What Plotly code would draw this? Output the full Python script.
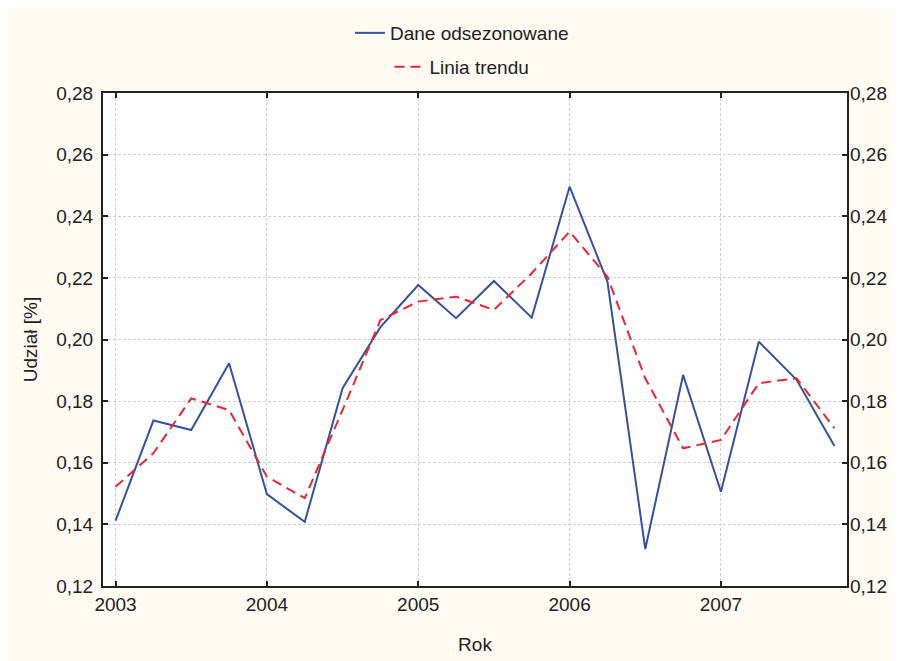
import plotly.graph_objects as go

# Data (quarterly, 2003 Q1 .. 2007 Q4)
x_years = [2003.0, 2003.25, 2003.5, 2003.75,
           2004.0, 2004.25, 2004.5, 2004.75,
           2005.0, 2005.25, 2005.5, 2005.75,
           2006.0, 2006.25, 2006.5, 2006.75,
           2007.0, 2007.25, 2007.5, 2007.75]
dane_odsezonowane = [0.1412, 0.1737, 0.1706, 0.1923,
                     0.1498, 0.1408, 0.1842, 0.2040,
                     0.2177, 0.2069, 0.2190, 0.2071,
                     0.2496, 0.2188, 0.1320, 0.1885,
                     0.1506, 0.1993, 0.1869, 0.1654]
linia_trendu = [0.1522, 0.1631, 0.1809, 0.1771,
                0.1555, 0.1485, 0.1771, 0.2063,
                0.2123, 0.2139, 0.2096, 0.2215,
                0.2350, 0.2204, 0.1874, 0.1647,
                0.1674, 0.1858, 0.1874, 0.1712]
year_ticks = [2003, 2004, 2005, 2006, 2007]
year_labels = ["2003", "2004", "2005", "2006", "2007"]
y_ticks = [0.12, 0.14, 0.16, 0.18, 0.20, 0.22, 0.24, 0.26, 0.28]

FONT = "Liberation Sans, Arial, sans-serif"
FS = 19
CREAM = "#FFFAF2"
AXIS = "#222222"
GRID = "#cfcfcf"

W, H = 899, 661
OFF = 8  # page body margin
L, R, T, B = 95, 60, 85, 83
PW, PH = W - L - R, H - T - B

def px_x(p):
    return (p - OFF - L) / PW

def px_y(p):
    return 1 + (T - (p - OFF)) / PH

fig = go.Figure()
fig.add_trace(go.Scatter(
    x=x_years, y=dane_odsezonowane, mode="lines", name="Dane odsezonowane",
    line=dict(color="#3352A3", width=2), legend="legend"))
fig.add_trace(go.Scatter(
    x=x_years, y=linia_trendu, mode="lines", name="Linia trendu",
    line=dict(color="#EE2430", width=2, dash="10px,6px"), legend="legend2"))
# invisible trace for right-hand axis
fig.add_trace(go.Scatter(
    x=x_years, y=linia_trendu, mode="lines", yaxis="y2", showlegend=False,
    line=dict(color="rgba(0,0,0,0)", width=0), hoverinfo="skip"))

fig.update_layout(
    width=W, height=H,
    margin=dict(l=L, r=R, t=T, b=B, autoexpand=False),
    paper_bgcolor=CREAM, plot_bgcolor="white",
    separators=", ",
    font=dict(family=FONT, size=FS, color="#222222"),
    xaxis=dict(
        range=[2002.917, 2007.833], tickvals=year_ticks, ticktext=year_labels,
        showgrid=True, gridcolor=GRID, griddash="3px,2px", gridwidth=1,
        showline=True, linecolor=AXIS, linewidth=2, mirror="ticks",
        ticks="inside", ticklen=5, tickwidth=2, tickcolor=AXIS,
        zeroline=False,
        title=dict(text="Rok", font=dict(size=FS), standoff=24),
        tickfont=dict(size=FS),
    ),
    yaxis=dict(
        range=[0.12, 0.28], tickvals=y_ticks, tickformat=".2f",
        showgrid=True, gridcolor=GRID, griddash="3px,2px", gridwidth=1,
        showline=True, linecolor=AXIS, linewidth=2, mirror="ticks",
        ticks="inside", ticklen=5, tickwidth=2, tickcolor=AXIS,
        zeroline=False, ticklabelstandoff=4,
        title=dict(text="Udział [%]", font=dict(size=FS), standoff=14),
        tickfont=dict(size=FS),
    ),
    yaxis2=dict(
        range=[0.12, 0.28], tickvals=y_ticks, tickformat=".2f",
        overlaying="y", side="right", showgrid=False, showline=False,
        zeroline=False, ticks="", tickfont=dict(size=FS), ticklabelstandoff=2,
    ),
    legend=dict(
        x=px_x(462), y=px_y(33), xanchor="center", yanchor="middle",
        bgcolor="rgba(0,0,0,0)", font=dict(size=FS),
    ),
    legend2=dict(
        x=px_x(462), y=px_y(67), xanchor="center", yanchor="middle",
        bgcolor="rgba(0,0,0,0)", font=dict(size=FS),
    ),
)

fig.write_html("out.html")
